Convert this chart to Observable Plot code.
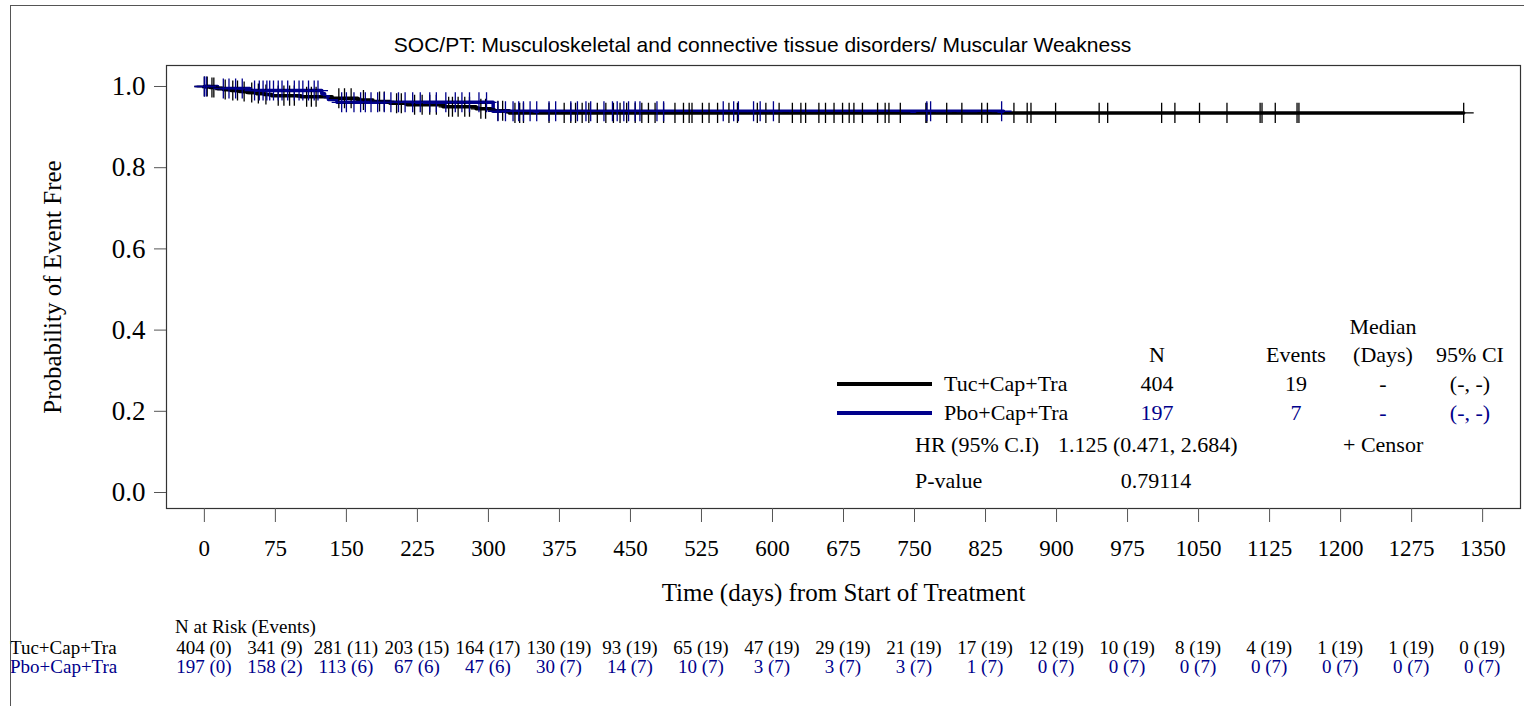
<!DOCTYPE html>
<html><head><meta charset="utf-8">
<script src="https://cdn.jsdelivr.net/npm/d3@7"></script>
<script src="https://cdn.jsdelivr.net/npm/@observablehq/plot@0.6"></script>
<style>
body{margin:0;background:#fff;overflow:hidden;}
#wrap{position:relative;width:1524px;height:706px;overflow:hidden;}
#border{position:absolute;left:10px;top:5px;width:1600px;height:800px;border:1px solid #555;pointer-events:none;}
</style></head><body><div id="wrap"><div id="chart"></div><div id="border"></div></div>
<script>
const titleText = "SOC/PT: Musculoskeletal and connective tissue disorders/ Muscular Weakness";
const arms = ["Tuc+Cap+Tra", "Pbo+Cap+Tra"];
const armColors = ["#000000", "#00008B"];

// Kaplan-Meier step values
const tucTime = [0, 6, 14, 20, 28, 37, 45, 55, 63, 71, 102, 135, 162, 178, 196, 214, 252, 287, 304, 322];
const tucSurv = [1, 0.9975, 0.995, 0.9925, 0.99, 0.9875, 0.985, 0.9825, 0.98, 0.9775, 0.9745, 0.971, 0.967, 0.963, 0.959, 0.955, 0.950, 0.945, 0.940, 0.935];
const tucEnd = 1330;
const pboTime = [0, 14, 48, 124, 127, 131, 140, 305];
const pboSurv = [1, 0.995, 0.990, 0.982, 0.975, 0.968, 0.961, 0.939];
const pboEnd = 844;

// censor times
const tucCensor = [0, 3, 8, 10, 22, 30, 35, 42, 50, 57, 65, 78, 84, 90, 95, 108, 113, 118, 142, 148, 155, 168, 185, 190, 203, 208, 222, 230, 238, 245, 258, 262, 268, 275, 280, 292, 297, 310, 315, 328, 333,
  337, 364, 380, 387, 392, 399, 406, 415, 424, 432, 439, 446, 455, 462, 469, 476, 485, 497, 506, 512, 515, 526, 533, 542, 554, 563, 584, 593, 607, 621, 630, 635, 649, 656, 665, 674, 681, 686, 695, 711, 719, 723, 735, 762, 763, 784, 800, 821, 827,
  855, 869, 873, 899, 945, 954, 1011, 1025, 1051, 1080, 1115, 1117, 1131, 1154, 1156, 1330];
const pboCensor = [0, 2, 20, 26, 33, 40, 53, 58, 62, 66, 69, 73, 78, 82, 88, 95, 100, 104, 110, 116, 120, 145, 150, 158, 165, 170, 176, 183, 190, 197, 205, 212, 220, 228, 238, 245, 255, 265, 272, 280, 290, 298, 310, 318, 326, 332,
  337, 344, 351, 364, 371, 387, 394, 403, 408, 422, 431, 436, 443, 448, 455, 460, 478, 485, 548, 559, 564, 580, 587, 601, 763, 767, 842];

// axes
const xTicks = [0, 75, 150, 225, 300, 375, 450, 525, 600, 675, 750, 825, 900, 975, 1050, 1125, 1200, 1275, 1350];
const yTicks = [0, 0.2, 0.4, 0.6, 0.8, 1.0];
const xLabel = "Time (days) from Start of Treatment";
const yLabel = "Probability of Event Free";

// number at risk (events)
const riskHeader = "N at Risk (Events)";
const tucRisk = [404, 341, 281, 203, 164, 130, 93, 65, 47, 29, 21, 17, 12, 10, 8, 4, 1, 1, 0];
const tucEvents = [0, 9, 11, 15, 17, 19, 19, 19, 19, 19, 19, 19, 19, 19, 19, 19, 19, 19, 19];
const pboRisk = [197, 158, 113, 67, 47, 30, 14, 10, 3, 3, 3, 1, 0, 0, 0, 0, 0, 0, 0];
const pboEvents = [0, 2, 6, 6, 6, 7, 7, 7, 7, 7, 7, 7, 7, 7, 7, 7, 7, 7, 7];

// legend table
const legendHeaders = ["N", "Events", "(Days)", "95% CI"];
const legendN = [404, 197];
const legendEvents = [19, 7];
const legendMedian = ["-", "-"];
const legendCI = ["(-, -)", "(-, -)"];
const hrLabel = "HR (95% C.I)";
const hrValue = "1.125 (0.471, 2.684)";
const pLabel = "P-value";
const pValue = "0.79114";
const censorLabel = "+ Censor";

// ---------- build ----------
function stepRows(times, survs, end, arm) {
  const rows = times.map((t, i) => ({t, s: survs[i], arm}));
  rows.push({t: end, s: survs[survs.length - 1], arm});
  return rows;
}
function survAt(times, survs, t) {
  let s = survs[0];
  for (let i = 0; i < times.length; i++) if (times[i] <= t) s = survs[i];
  return s;
}
const curveRows = [...stepRows(tucTime, tucSurv, tucEnd, arms[0]), ...stepRows(pboTime, pboSurv, pboEnd, arms[1])];
const censorRows = [
  ...tucCensor.map(t => ({t, s: survAt(tucTime, tucSurv, t), arm: arms[0]})),
  ...pboCensor.map(t => ({t, s: survAt(pboTime, pboSurv, t), arm: arms[1]}))
];
const riskRows = [
  ...xTicks.map((t, i) => ({t, arm: arms[0], label: `${tucRisk[i]} (${tucEvents[i]})`})),
  ...xTicks.map((t, i) => ({t, arm: arms[1], label: `${pboRisk[i]} (${pboEvents[i]})`}))
];

const W = 1524, H = 706;
const mL = 166, mR = 4, mT = 65, mB = 198;
const serif = "'Liberation Serif', 'Times New Roman', serif";
const sans = "'Liberation Sans', Arial, sans-serif";
const color = {domain: arms, range: armColors};

const chart = Plot.plot({
  width: W, height: H,
  marginLeft: mL, marginRight: mR, marginTop: mT, marginBottom: mB,
  style: {fontFamily: serif, background: "#fff", color: "#000", overflow: "visible"},
  x: {domain: [-40, 1390]},
  y: {domain: [-0.0394, 1.0517]},
  color,
  marks: [
    Plot.frame({stroke: "#333", strokeWidth: 1.2}),
    Plot.axisY(yTicks, {tickSize: 12, tickPadding: 9, tickFormat: d3.format(".1f"), fontSize: 27, stroke: "#555", label: null}),
    Plot.axisX(xTicks, {tickSize: 14, tickPadding: 17, tickFormat: d3.format("d"), fontSize: 23, stroke: "#555", label: null}),
    Plot.line(curveRows, {x: "t", y: "s", z: "arm", stroke: "arm", curve: "step-after", strokeWidth: 3.5}),
    Plot.dot(censorRows, {x: "t", y: "s", stroke: "arm", symbol: "plus", r: 6.5, strokeWidth: 1.3}),
    // titles
    Plot.text([titleText], {frameAnchor: "top", dx: -81, dy: -28, fontFamily: sans, fontSize: 21, fill: "#000"}),
    Plot.text([xLabel], {frameAnchor: "bottom", dy: 92, fontSize: 25, fill: "#000"}),
    Plot.text([yLabel], {frameAnchor: "left", dx: -114, rotate: -90, textAnchor: "middle", fontSize: 25, fill: "#000"})
  ]
});
document.getElementById("chart").appendChild(chart);

// at-risk table positioned with the chart's x scale
const svg = d3.select(chart);
const xs = chart.scale("x");
const yBase = H - mB;
const g = svg.append("g").attr("font-family", serif).attr("font-size", 19);
g.append("text").attr("x", 175).attr("y", yBase + 125).attr("text-anchor", "start").text(riskHeader);
arms.forEach((a, i) => {
  g.append("text").attr("x", 10).attr("y", yBase + 146 + i * 19).attr("text-anchor", "start").attr("fill", armColors[i]).text(a);
});
riskRows.forEach(r => {
  const i = arms.indexOf(r.arm);
  g.append("text").attr("x", xs.apply(r.t)).attr("y", yBase + 146 + i * 19).attr("text-anchor", "middle")
    .attr("fill", armColors[i]).text(r.label);
});
// legend
const lg = svg.append("g").attr("font-family", serif).attr("font-size", 22);
const colX = [1157, 1296, 1383, 1470];
lg.append("text").attr("x", colX[2]).attr("y", 334).attr("text-anchor", "middle").text("Median");
legendHeaders.forEach((h, j) => lg.append("text").attr("x", colX[j]).attr("y", 362).attr("text-anchor", "middle").text(h));
arms.forEach((a, i) => {
  const y = 384 + i * 29;
  lg.append("line").attr("x1", 837).attr("x2", 932).attr("y1", y).attr("y2", y).attr("stroke", armColors[i]).attr("stroke-width", 4);
  lg.append("text").attr("x", 944).attr("y", y + 7).attr("text-anchor", "start").text(a);
  [legendN[i], legendEvents[i], legendMedian[i], legendCI[i]].forEach((v, j) =>
    lg.append("text").attr("x", colX[j]).attr("y", y + 7).attr("text-anchor", "middle").attr("fill", armColors[i]).text(v));
});
lg.append("text").attr("x", 915).attr("y", 452).attr("text-anchor", "start").text(hrLabel);
lg.append("text").attr("x", 1058).attr("y", 452).attr("text-anchor", "start").text(hrValue);
lg.append("text").attr("x", 1343).attr("y", 452).attr("text-anchor", "start").text(censorLabel);
lg.append("text").attr("x", 915).attr("y", 488).attr("text-anchor", "start").text(pLabel);
lg.append("text").attr("x", 1156).attr("y", 488).attr("text-anchor", "middle").text(pValue);
</script></body></html>
